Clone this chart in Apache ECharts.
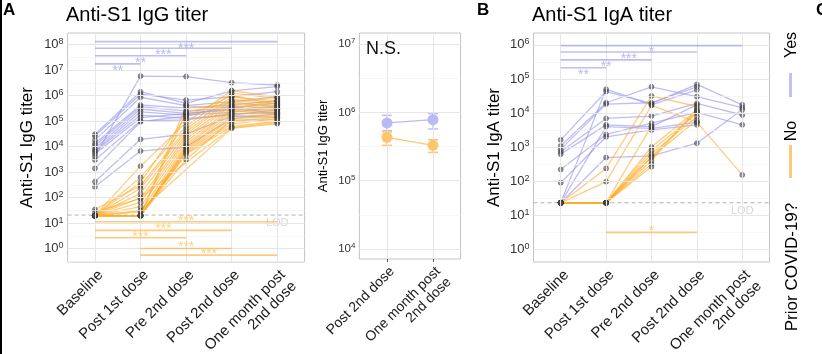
<!DOCTYPE html>
<html>
<head>
<meta charset="utf-8">
<script src="https://cdn.jsdelivr.net/npm/echarts@6/dist/echarts.min.js"></script>
<style>
  html, body { margin: 0; padding: 0; background: #fff; }
  #chart { width: 822px; height: 354px; }
</style>
</head>
<body>
<div id="chart"></div>
<script>
// x categories
const timepoints = ['Baseline', 'Post 1st dose', 'Pre 2nd dose', 'Post 2nd dose', 'One month post\n2nd dose'];
const lateTimepoints = ['Post 2nd dose', 'One month post\n2nd dose'];

// log10 titers, one row per subject (null = not measured)
const iggYes = [
  [3.62, 6.77, 6.75, 6.51, 6.42],
  [4.49, 6.16, 5.70, 6.19, 6.36],
  [4.42, 6.06, 5.83, 5.96, 6.16],
  [4.26, 5.94, 5.61, 5.77, 5.95],
  [4.13, 5.64, 5.51, 5.64, 5.80],
  [4.05, 5.57, 5.40, 5.53, 5.70],
  [3.94, 5.48, 5.31, 5.44, 5.60],
  [3.85, 5.37, 5.24, 5.35, 5.55],
  [3.80, 5.24, 5.11, 5.24, 5.45],
  [3.72, 5.14, 5.30, 5.50, 5.50],
  [3.48, 5.01, 5.05, 5.30, 5.35],
  [3.15, 4.98, 5.20, 5.60, 5.25],
  [2.63, 4.29, 4.50, 5.20, 5.15],
  [2.43, 3.83, 4.00, 5.10, 5.30],
];
const iggNo = [
  [1.30, 3.24, 4.95, 6.20, 5.95],
  [1.30, 2.80, 4.80, 6.10, 5.90],
  [1.54, 2.47, 4.70, 5.95, 5.80],
  [1.30, 2.37, 4.60, 5.85, 5.75],
  [1.30, 2.17, 4.50, 5.80, 5.68],
  [1.45, 1.97, 4.40, 5.70, 5.60],
  [1.30, 1.82, 4.30, 5.62, 5.50],
  [1.30, 1.65, 4.20, 5.52, 5.45],
  [1.30, 1.45, 4.10, 5.45, 5.40],
  [1.30, 1.30, 4.02, 5.40, 5.35],
  [1.30, 1.30, 3.95, 5.30, 5.30],
  [1.30, 1.30, 3.90, 5.20, 5.25],
  [1.30, 1.30, 3.85, 5.10, 5.20],
  [1.30, 1.30, 3.80, 5.00, 5.15],
  [1.30, 1.30, 3.75, 4.90, 5.10],
  [1.30, 1.30, 3.70, 4.80, 5.00],
  [1.30, 2.00, null, 4.75, 4.95],
  [1.30, 1.50, null, 4.72, 4.90],
  [1.30, 1.30, 5.60, 5.50, 5.80],
  [1.30, 2.60, 5.20, 6.00, 5.65],
  [1.30, 1.30, 5.35, 5.75, 5.55],
  [1.30, 1.30, 3.50, 5.05, 5.05],
];
const igaYes = [
  [3.21, 4.63, 4.28, 4.84, 4.24],
  [1.36, 4.70, 4.24, 4.68, null],
  [3.03, 4.30, 4.77, 4.48, 4.16],
  [2.93, 4.26, 4.30, 4.77, null],
  [2.86, 3.84, 3.91, 4.28, 3.94],
  [2.79, 3.65, 3.60, 4.24, null],
  [2.34, 3.37, 3.70, 4.02, 3.65],
  [1.95, 3.30, 3.50, 3.65, null],
  [1.36, 2.69, 2.74, 3.11, 4.10],
  [1.36, 3.60, 3.55, 3.73, null],
];
const igaNo = [
  [1.36, 2.37, 4.50, 4.19, null],
  [1.36, 1.98, 4.22, 3.73, 2.18],
  [1.36, 1.36, 3.00, 4.09, null],
  [1.36, 1.36, 2.90, 3.99, null],
  [1.36, 1.36, 2.80, 3.89, null],
  [1.36, 1.36, 2.70, 3.79, null],
  [1.36, 1.36, 2.60, 4.12, null],
  [1.36, 1.36, 2.50, null, null],
  [1.36, 1.36, 2.42, null, null],
  [1.36, 1.36, null, 4.05, null],
  [1.36, 1.36, 3.62, null, null],
];

// middle panel: log10 mean and error bar ends
const lateYesMean = [5.845, 5.893];
const lateYesLow = [5.732, 5.757];
const lateYesHigh = [5.956, 5.981];
const lateNoMean = [5.634, 5.517];
const lateNoLow = [5.517, 5.414];
const lateNoHigh = [5.713, 5.600];

// significance bars: [from, to, log10 height, label]
const iggYesSig = [[0, 4, 8.12, '***'], [0, 3, 7.86, '***'], [0, 2, 7.57, '**'], [0, 1, 7.25, '**']];
const iggNoSig = [[0, 4, 1.06, '***'], [0, 3, 0.72, '***'], [0, 2, 0.43, '***'], [1, 3, 0.01, '***'], [1, 4, -0.25, '***']];
const igaYesSig = [[0, 4, 5.98, '*'], [0, 3, 5.79, '***'], [0, 2, 5.56, '**'], [0, 1, 5.33, '**']];
const igaNoSig = [[1, 3, 0.49, '*']];

// limit of detection (log10)
const lodIgG = 1.32;
const lodIgA = 1.36;

const FONT = 'Liberation Sans, Arial, sans-serif';
const YES = 'rgba(150,150,235,0.62)';
const NO = 'rgba(253,172,45,0.62)';
const YES_STAR = '#a9a9e2';
const NO_STAR = '#fcc46c';

var myChart = echarts.init(document.getElementById('chart'));

function range(a, b, step) {
  const out = [];
  for (let v = a; v <= b + 1e-9; v += step) out.push(+v.toFixed(2));
  return out;
}

function gridLines(xi, xs, yMajor, yMinor) {
  const data = [];
  yMinor.forEach(v => data.push({ yAxis: v, lineStyle: { color: '#f3f3f3', width: 0.7, type: 'solid' } }));
  yMajor.forEach(v => data.push({ yAxis: v, lineStyle: { color: '#e6e6e6', width: 1, type: 'solid' } }));
  xs.forEach(v => data.push({ xAxis: v, lineStyle: { color: '#e6e6e6', width: 1, type: 'solid' } }));
  return {
    type: 'line', xAxisIndex: xi, yAxisIndex: xi, data: [], silent: true, z: 1,
    markLine: { silent: true, symbol: ['none', 'none'], label: { show: false }, data: data },
  };
}

function subjects(rows, color, xi) {
  return rows.map(r => ({
    type: 'line', xAxisIndex: xi, yAxisIndex: xi, silent: true, z: 3,
    data: r.map((v, i) => [i, v]).filter(p => p[1] !== null),
    symbol: 'none', lineStyle: { color: color, width: 1.3 },
  }));
}

function points(groups, xi) {
  const data = [];
  groups.forEach(rows => rows.forEach(r => r.forEach((v, i) => { if (v !== null) data.push([i, v]); })));
  return {
    type: 'scatter', xAxisIndex: xi, yAxisIndex: xi, silent: true, z: 4, data: data,
    symbolSize: 5,
    itemStyle: { color: 'rgba(80,80,80,0.72)', borderColor: 'rgba(45,45,45,0.8)', borderWidth: 0.6 },
  };
}

function sigBars(list, color, starColor, xi, dy) {
  const out = list.map(s => ({
    type: 'line', xAxisIndex: xi, yAxisIndex: xi, silent: true, z: 5,
    data: [[s[0], s[2]], [s[1], s[2]]], symbol: 'none',
    lineStyle: { color: color, width: 1.6 },
  }));
  out.push({
    type: 'scatter', xAxisIndex: xi, yAxisIndex: xi, silent: true, z: 6,
    data: list.map(s => [(s[0] + s[1]) / 2, s[2], s[3]]),
    symbolSize: 1, itemStyle: { color: 'transparent' },
    label: {
      show: true, position: 'inside', offset: [0, dy], formatter: p => p.value[2],
      color: starColor, fontSize: 14, fontFamily: FONT,
    },
  });
  return out;
}

function lod(value, xi) {
  return [{
    type: 'line', xAxisIndex: xi, yAxisIndex: xi, silent: true, z: 2,
    data: [[-0.6, value], [4.6, value]], symbol: 'none',
    lineStyle: { color: '#a8a8a8', width: 0.9, type: [4, 3] },
  }, {
    type: 'scatter', xAxisIndex: xi, yAxisIndex: xi, silent: true, z: 2,
    data: [[4, value]], symbolSize: 1, itemStyle: { color: 'transparent' },
    label: { show: true, position: 'inside', offset: [0, 8], formatter: 'LOD', color: '#cccccc', fontSize: 11, fontFamily: FONT },
  }];
}

function errorBars(mean, low, high, color, xi) {
  return {
    type: 'custom', xAxisIndex: xi, yAxisIndex: xi, silent: true, z: 4,
    data: mean.map((m, i) => [i, m, low[i], high[i]]),
    renderItem: (params, api) => {
      const top = api.coord([api.value(0), api.value(3)]);
      const bot = api.coord([api.value(0), api.value(2)]);
      const w = 5;
      const st = { stroke: color, lineWidth: 1.5 };
      return {
        type: 'group', children: [
          { type: 'line', shape: { x1: top[0], y1: top[1], x2: bot[0], y2: bot[1] }, style: st },
          { type: 'line', shape: { x1: top[0] - w, y1: top[1], x2: top[0] + w, y2: top[1] }, style: st },
          { type: 'line', shape: { x1: bot[0] - w, y1: bot[1], x2: bot[0] + w, y2: bot[1] }, style: st },
        ],
      };
    },
  };
}

function meanLine(mean, color, xi) {
  return {
    type: 'line', xAxisIndex: xi, yAxisIndex: xi, silent: true, z: 5,
    data: mean.map((m, i) => [i, m]), symbol: 'circle', symbolSize: 11, showSymbol: true,
    lineStyle: { color: color, width: 1.3 }, itemStyle: { color: color },
  };
}

function xAxisFor(gi, cats, fontSize) {
  return {
    type: 'value', gridIndex: gi, min: -0.6, max: cats.length - 0.4,
    axisLine: { show: false }, splitLine: { show: false },
    axisTick: { show: true, length: 3, lineStyle: { color: '#555' }, customValues: cats.map((c, i) => i) },
    axisLabel: {
      customValues: cats.map((c, i) => i), formatter: v => cats[Math.round(v)],
      rotate: 45, margin: 5, verticalAlign: 'top', align: 'right',
      color: '#1a1a1a', fontSize: fontSize, fontFamily: FONT, lineHeight: fontSize + 1,
    },
  };
}

function yAxisFor(gi, min, max, ticks, name, nameSize, nameGap, labelSize) {
  return {
    type: 'value', gridIndex: gi, min: min, max: max,
    axisLine: { show: false }, splitLine: { show: false },
    axisTick: { show: true, length: 3, lineStyle: { color: '#555' }, customValues: ticks },
    axisLabel: {
      customValues: ticks, margin: 4,
      formatter: v => '{b|10}{e|' + Math.round(v) + '}',
      rich: {
        b: { fontSize: labelSize, color: '#333', fontFamily: FONT, lineHeight: labelSize + 2 },
        e: { fontSize: Math.round(labelSize * 0.68), color: '#333', fontFamily: FONT, verticalAlign: 'top', lineHeight: labelSize - 2 },
      },
    },
    name: name, nameLocation: 'middle', nameGap: nameGap,
    nameTextStyle: { fontSize: nameSize, color: '#000', fontFamily: FONT },
  };
}

const gridBase = { show: true, borderColor: '#c4c4c4', borderWidth: 1, backgroundColor: '#fff', containLabel: false, outerBoundsMode: 'none' };

const option = {
  animation: false,
  backgroundColor: '#fff',
  textStyle: { fontFamily: FONT },
  title: [
    { text: 'A', left: 3, top: 2, padding: 0, textStyle: { fontSize: 17, fontWeight: 'bold', color: '#000', fontFamily: FONT } },
    { text: 'Anti-S1 IgG titer', left: 66, top: 5, padding: 0, textStyle: { fontSize: 20, fontWeight: 'normal', color: '#000', fontFamily: FONT } },
    { text: 'B', left: 477, top: 2, padding: 0, textStyle: { fontSize: 17, fontWeight: 'bold', color: '#000', fontFamily: FONT } },
    { text: 'Anti-S1 IgA titer', left: 532, top: 5, padding: 0, textStyle: { fontSize: 20, fontWeight: 'normal', color: '#000', fontFamily: FONT } },
    { text: 'C', left: 816, top: 2, padding: 0, textStyle: { fontSize: 17, fontWeight: 'bold', color: '#000', fontFamily: FONT } },
    { text: 'N.S.', left: 366, top: 40, padding: 0, textStyle: { fontSize: 18, fontWeight: 'normal', color: '#111', fontFamily: FONT } },
  ],
  grid: [
    Object.assign({ left: 67.6, top: 33, width: 237, height: 229 }, gridBase),
    Object.assign({ left: 359.4, top: 33, width: 101.2, height: 226 }, gridBase),
    Object.assign({ left: 533.5, top: 33, width: 236, height: 229 }, gridBase),
  ],
  xAxis: [
    xAxisFor(0, timepoints, 15),
    xAxisFor(1, lateTimepoints, 14),
    xAxisFor(2, timepoints, 15),
  ],
  yAxis: [
    yAxisFor(0, -0.52, 8.46, range(0, 8, 1), 'Anti-S1 IgG titer', 17, 32, 13),
    yAxisFor(1, 3.854, 7.161, range(4, 7, 1), 'Anti-S1 IgG titer', 13, 29, 11.5),
    yAxisFor(2, -0.38, 6.35, range(0, 6, 1), 'Anti-S1 IgA titer', 17, 31, 13),
  ],
  graphic: [
    { type: 'rect', left: 0, top: 0, shape: { x: 0, y: 0, width: 2, height: 354 }, style: { fill: '#000' } },
    { type: 'rect', shape: { x: 789, y: 73, width: 3, height: 24 }, style: { fill: '#c2c2f2' } },
    { type: 'rect', shape: { x: 789, y: 145, width: 3, height: 33 }, style: { fill: '#fdc979' } },
    { type: 'text', x: 792, y: 45, rotation: Math.PI / 2, style: { text: 'Yes', fontSize: 16, fontFamily: FONT, fill: '#000', align: 'center', verticalAlign: 'middle', textAlign: 'center', textVerticalAlign: 'middle' } },
    { type: 'text', x: 792, y: 131, rotation: Math.PI / 2, style: { text: 'No', fontSize: 16, fontFamily: FONT, fill: '#000', align: 'center', verticalAlign: 'middle', textAlign: 'center', textVerticalAlign: 'middle' } },
    { type: 'text', x: 792, y: 267, rotation: Math.PI / 2, style: { text: 'Prior COVID-19?', fontSize: 17, fontFamily: FONT, fill: '#000', align: 'center', verticalAlign: 'middle', textAlign: 'center', textVerticalAlign: 'middle' } },
  ],
  series: [
    gridLines(0, range(0, 4, 1), range(0, 8, 1), range(-0.5, 7.5, 1)),
    gridLines(1, range(0, 1, 1), range(4, 7, 1), range(4.5, 6.5, 1)),
    gridLines(2, range(0, 4, 1), range(0, 6, 1), range(0.5, 5.5, 1)),
    ...lod(lodIgG, 0),
    ...lod(lodIgA, 2),
    ...subjects(iggYes, YES, 0),
    ...subjects(iggNo, NO, 0),
    ...subjects(igaYes, YES, 2),
    ...subjects(igaNo, NO, 2),
    points([iggYes, iggNo], 0),
    points([igaYes, igaNo], 2),
    ...sigBars(iggYesSig, YES, YES_STAR, 0, 7),
    ...sigBars(iggNoSig, NO, NO_STAR, 0, -1),
    ...sigBars(igaYesSig, YES, YES_STAR, 2, 7),
    ...sigBars(igaNoSig, NO, NO_STAR, 2, -1),
    errorBars(lateYesMean, lateYesLow, lateYesHigh, '#c0c0f5', 1),
    errorBars(lateNoMean, lateNoLow, lateNoHigh, '#fdc56e', 1),
    meanLine(lateYesMean, '#b9b9f5', 1),
    meanLine(lateNoMean, '#fdc56e', 1),
  ],
};
myChart.setOption(option);
</script>
</body>
</html>
